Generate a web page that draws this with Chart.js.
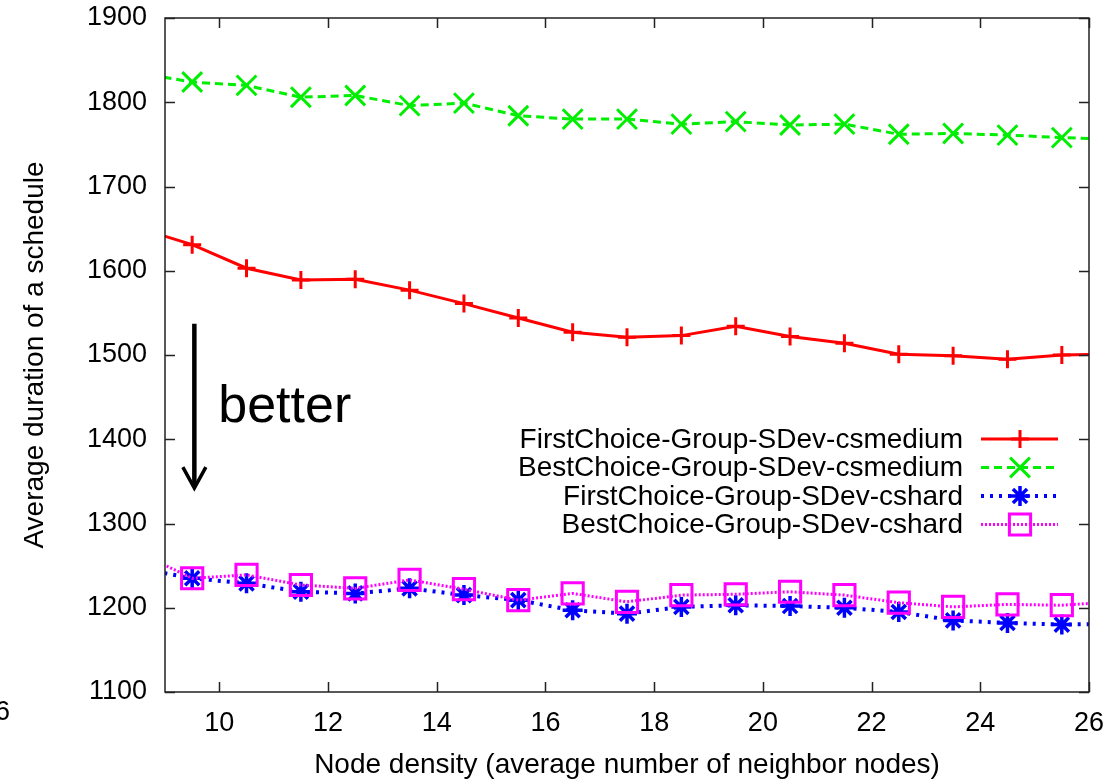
<!DOCTYPE html>
<html>
<head>
<meta charset="utf-8">
<script src="https://cdn.jsdelivr.net/npm/chart.js@4.4.0/dist/chart.umd.min.js"></script>
<style>
  html, body { margin: 0; padding: 0; background: #fff; }
  #wrap { width: 1120px; height: 780px; position: relative; }
</style>
</head>
<body>
<div id="wrap"><canvas id="chart" width="1120" height="780"></canvas></div>
<script>
// densités mesurées (un point de part et d'autre du cadre : les courbes touchent les bords)
const densities = [8.5, 9.5, 10.5, 11.5, 12.5, 13.5, 14.5, 15.5, 16.5, 17.5, 18.5, 19.5, 20.5, 21.5, 22.5, 23.5, 24.5, 25.5, 26.5];

const firstMedium = [1651, 1631, 1603, 1589, 1590, 1577, 1561, 1544, 1527, 1521, 1523, 1534, 1522, 1514, 1501, 1499, 1495, 1500, 1501];
const bestMedium  = [1835, 1824, 1820, 1806, 1808, 1796, 1799, 1784, 1780, 1780, 1774, 1777, 1773, 1774, 1762, 1763, 1761, 1758, 1756];
const firstHard   = [1247, 1235, 1229, 1219, 1217, 1223, 1215, 1209, 1197, 1193, 1201, 1203, 1202, 1200, 1195, 1185, 1182, 1180, 1181];
const bestHard    = [1266, 1235, 1239, 1227, 1223, 1233, 1222, 1209, 1217, 1207, 1215, 1216, 1219, 1215, 1206, 1201, 1204, 1203, 1207];

const seriesLabels = [
    'FirstChoice-Group-SDev-csmedium',
    'BestChoice-Group-SDev-csmedium',
    'FirstChoice-Group-SDev-cshard',
    'BestChoice-Group-SDev-cshard'
];

const xTicks = [10, 12, 14, 16, 18, 20, 22, 24, 26];
const yTicks = [1100, 1200, 1300, 1400, 1500, 1600, 1700, 1800, 1900];

const FONT = '"Liberation Sans", Arial, Helvetica, sans-serif';

const toPoints = vals => vals.map((v, i) => ({ x: densities[i], y: v }));

// styles des séries (façon gnuplot)
const styles = [
    { color: '#ff0000', dash: [],     width: 3,   point: 'cross',    radius: 9,  pw: 3 },
    { color: '#00ee00', dash: [8, 5], width: 3,   point: 'crossRot', radius: 14, pw: 3 },
    { color: '#0000ff', dash: [3, 6], width: 4,   point: 'star',     radius: 10, pw: 3.5 },
    { color: '#ff00ff', dash: [2, 2], width: 3,   point: 'rect',     radius: 15, pw: 3 }
];
const seriesValues = [firstMedium, bestMedium, firstHard, bestHard];

// dessin d'un marqueur pour la légende
function drawMarker(ctx, style, x, y, r) {
    ctx.beginPath();
    if (style === 'cross' || style === 'star') {
        ctx.moveTo(x - r, y); ctx.lineTo(x + r, y);
        ctx.moveTo(x, y - r); ctx.lineTo(x, y + r);
    }
    if (style === 'crossRot' || style === 'star') {
        const d = r * Math.SQRT1_2;
        ctx.moveTo(x - d, y - d); ctx.lineTo(x + d, y + d);
        ctx.moveTo(x + d, y - d); ctx.lineTo(x - d, y + d);
    }
    if (style === 'rect') {
        const s = r * Math.SQRT1_2;
        ctx.rect(x - s, y - s, 2 * s, 2 * s);
    }
    ctx.stroke();
}

const decorPlugin = {
    id: 'decor',
    afterDraw(chart) {
        const { ctx, chartArea: a, scales: { x, y } } = chart;
        ctx.save();

        // cadre + graduations vers l'intérieur
        ctx.strokeStyle = '#222';
        ctx.lineWidth = 1.5;
        ctx.setLineDash([]);
        ctx.strokeRect(a.left, a.top, a.right - a.left, a.bottom - a.top);
        ctx.beginPath();
        xTicks.forEach(v => {
            const px = Math.round(x.getPixelForValue(v)) + 0.5;
            ctx.moveTo(px, a.bottom); ctx.lineTo(px, a.bottom - 10);
            ctx.moveTo(px, a.top); ctx.lineTo(px, a.top + 10);
        });
        yTicks.forEach(v => {
            const py = Math.round(y.getPixelForValue(v)) + 0.5;
            ctx.moveTo(a.left, py); ctx.lineTo(a.left + 10, py);
            ctx.moveTo(a.right, py); ctx.lineTo(a.right - 10, py);
        });
        ctx.stroke();

        // légende gnuplot : texte aligné à droite, échantillon à droite
        ctx.font = '28px ' + FONT;
        ctx.textAlign = 'right';
        ctx.textBaseline = 'middle';
        const rowY = [439, 467.5, 496, 524.5];
        seriesLabels.forEach((lab, i) => {
            const s = styles[i];
            ctx.fillStyle = '#000';
            ctx.fillText(lab, 963, rowY[i] + 1);
            ctx.strokeStyle = s.color;
            ctx.lineWidth = s.width;
            ctx.setLineDash(s.dash);
            ctx.beginPath();
            ctx.moveTo(981, rowY[i]); ctx.lineTo(1058, rowY[i]);
            ctx.stroke();
            ctx.setLineDash([]);
            ctx.lineWidth = s.pw;
            drawMarker(ctx, s.point, 1020, rowY[i], s.radius);
        });

        // flèche "better"
        const ax = x.getPixelForValue(9.54);
        const aTop = y.getPixelForValue(1537);
        const aTip = y.getPixelForValue(1342);
        ctx.strokeStyle = '#000';
        ctx.lineWidth = 4.5;
        ctx.beginPath();
        ctx.moveTo(ax, aTop); ctx.lineTo(ax, aTip - 2);
        ctx.stroke();
        ctx.lineWidth = 3.5;
        ctx.beginPath();
        ctx.moveTo(ax - 11.5, aTip - 21); ctx.lineTo(ax, aTip); ctx.lineTo(ax + 11.5, aTip - 21);
        ctx.stroke();
        ctx.fillStyle = '#000';
        ctx.font = '52px ' + FONT;
        ctx.textAlign = 'left';
        ctx.textBaseline = 'alphabetic';
        ctx.fillText('better', x.getPixelForValue(9.98), y.getPixelForValue(1421));

        // bout de libellé coupé à gauche
        ctx.font = '27px ' + FONT;
        ctx.textBaseline = 'middle';
        ctx.fillText('6', -5, 713);

        ctx.restore();
    }
};

const datasets = seriesLabels.map((lab, i) => ({
    label: lab,
    data: toPoints(seriesValues[i]),
    borderColor: styles[i].color,
    backgroundColor: 'rgba(0,0,0,0)',
    borderWidth: styles[i].width,
    borderDash: styles[i].dash,
    pointStyle: styles[i].point,
    pointRadius: styles[i].radius,
    pointBorderWidth: styles[i].pw,
    pointBorderColor: styles[i].color,
    pointBackgroundColor: 'rgba(0,0,0,0)',
    tension: 0,
    fill: false,
    order: 4 - i
}));

new Chart(document.getElementById('chart').getContext('2d'), {
    type: 'line',
    data: { datasets: datasets },
    options: {
        responsive: false,
        animation: false,
        events: [],
        layout: { padding: { left: 0, top: 18, right: 31, bottom: 0 } },
        plugins: {
            legend: { display: false },
            tooltip: { enabled: false },
            title: { display: false }
        },
        scales: {
            x: {
                type: 'linear',
                min: 9,
                max: 26,
                afterBuildTicks: s => { s.ticks = xTicks.map(v => ({ value: v })); },
                afterFit: s => { s.height = 88; s.paddingLeft = 0; s.paddingRight = 0; },
                grid: { display: false, drawTicks: false },
                border: { display: false },
                ticks: {
                    color: '#000',
                    padding: 15,
                    maxRotation: 0,
                    callback: v => String(v),
                    font: { family: FONT, size: 27 }
                },
                title: {
                    display: true,
                    text: 'Node density (average number of neighbor nodes)',
                    color: '#000',
                    font: { family: FONT, size: 28, lineHeight: 1 },
                    padding: { top: 0, bottom: 1 }
                }
            },
            y: {
                min: 1100,
                max: 1900,
                afterBuildTicks: s => { s.ticks = yTicks.map(v => ({ value: v })); },
                afterFit: s => { s.width = 165; s.paddingTop = 0; s.paddingBottom = 0; },
                grid: { display: false, drawTicks: false },
                border: { display: false },
                ticks: {
                    color: '#000',
                    padding: 18,
                    callback: v => String(v),
                    font: { family: FONT, size: 27 }
                },
                title: {
                    display: true,
                    text: 'Average duration of a schedule',
                    color: '#000',
                    font: { family: FONT, size: 28, lineHeight: 1 },
                    padding: { top: 21, bottom: 0 }
                }
            }
        }
    },
    plugins: [decorPlugin]
});
</script>
</body>
</html>
